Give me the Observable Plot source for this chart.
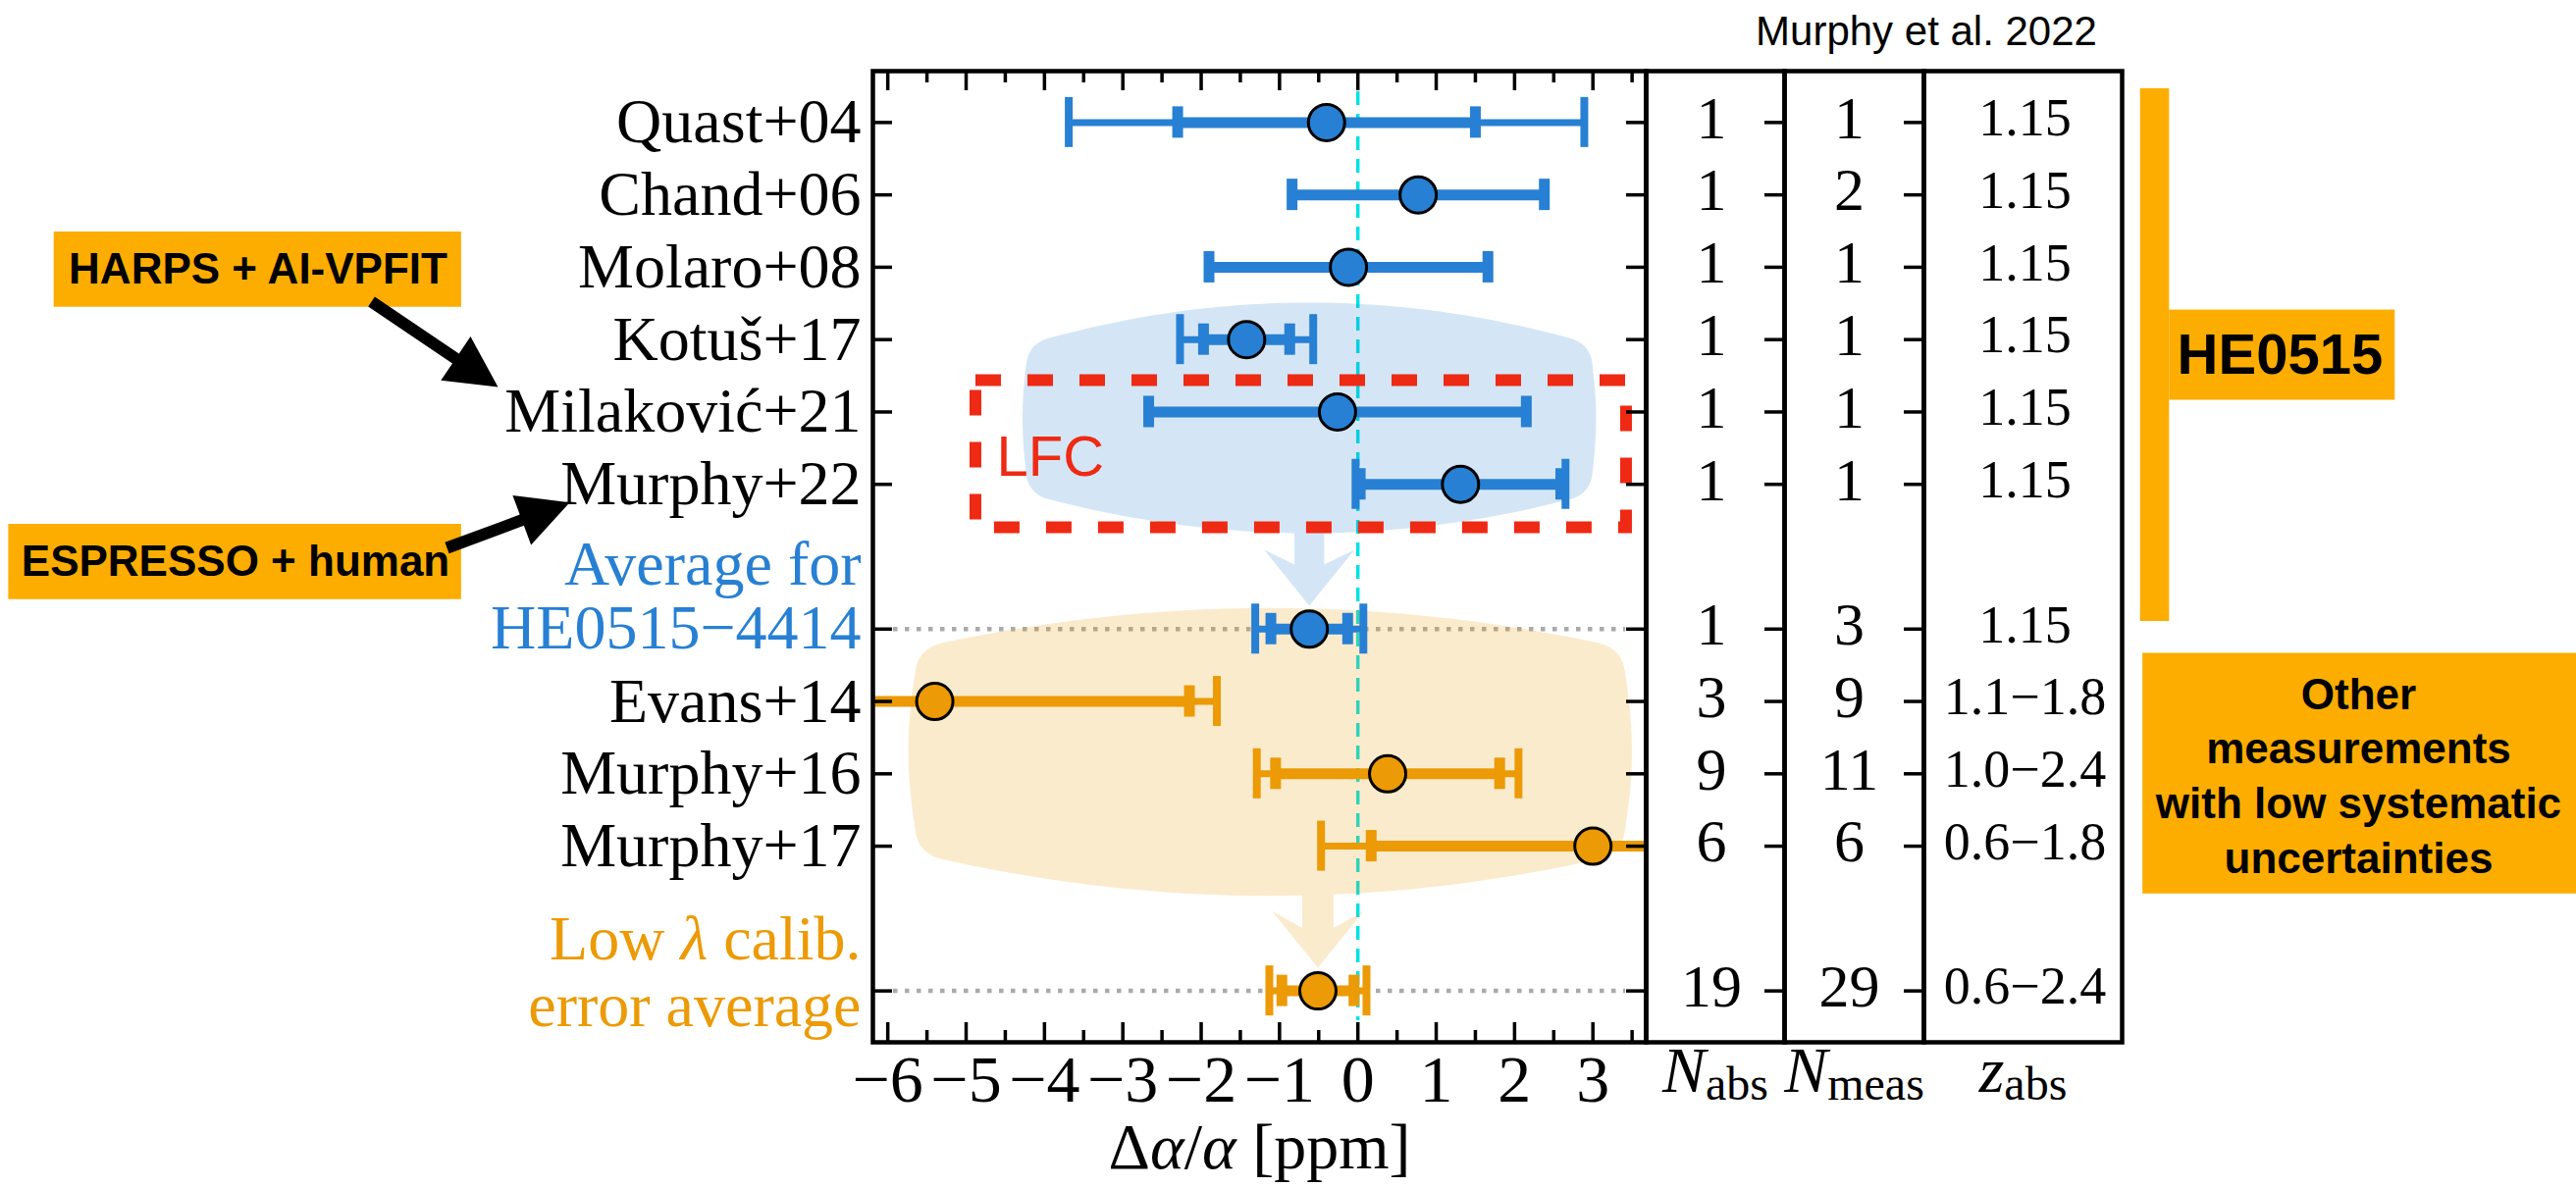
<!DOCTYPE html>
<html><head><meta charset="utf-8">
<script src="https://cdn.jsdelivr.net/npm/d3@7"></script>
<script src="https://cdn.jsdelivr.net/npm/@observablehq/plot@0.6"></script>
<style>
html,body{margin:0;padding:0;background:#fff;}
#chart{position:relative;width:2625px;height:1210px;overflow:hidden;background:#fff;}
#chart svg{position:absolute;top:0;}
</style></head><body><div id="chart"></div>
<script>
// ---------------- data ----------------
const rowOrder = ["Quast+04","Chand+06","Molaro+08","Kotuš+17","Milaković+21","Murphy+22","",
  "Average for\nHE0515−4414","Evans+14","Murphy+16","Murphy+17","","Low λ calib.\nerror average"];
const labels = ["Quast+04","Chand+06","Molaro+08","Kotuš+17","Milaković+21","Murphy+22",
  "Average for\nHE0515−4414","Evans+14","Murphy+16","Murphy+17","Low λ calib.\nerror average"];
const groups = ["HE0515","HE0515","HE0515","HE0515","HE0515","HE0515","HE0515","other","other","other","other"];
const kinds  = ["meas","meas","meas","meas","meas","meas","avg","meas","meas","meas","avg"];
const dAlpha  = [-0.40, 0.77, -0.12, -1.42, -0.26, 1.31, -0.62, -5.40, 0.38, 3.00, -0.51];
const statErr = [1.90, null, null, 0.55, null, 1.28, 0.49, 3.25, 1.43, 2.83, 0.46];
const totErr  = [3.29, 1.61, 1.78, 0.85, 2.41, 1.34, 0.69, 3.60, 1.67, 3.47, 0.62];
const nAbs  = [1,1,1,1,1,1,1,3,9,6,19];
const nMeas = [1,2,1,1,1,1,3,9,11,6,29];
const zAbs  = ["1.15","1.15","1.15","1.15","1.15","1.15","1.15","1.1−1.8","1.0−2.4","0.6−1.8","0.6−2.4"];
const xTicks = [-6,-5,-4,-3,-2,-1,0,1,2,3];
const xMinorTicks = [-5.5,-4.5,-3.5,-2.5,-1.5,-0.5,0.5,1.5,2.5,3.5];
const columnTitles = ["N_abs","N_meas","z_abs"];
const xLabel = "Δα/α [ppm]";
const credit = "Murphy et al. 2022";
const noteHarps = "HARPS + AI-VPFIT";
const noteEspresso = "ESPRESSO + human";
const noteLFC = "LFC";
const noteHE = "HE0515";
const noteOther = "Other\nmeasurements\nwith low systematic\nuncertainties";

// ---------------- layout / style ----------------
const W = 2625, H = 1210;
const FL = 889, FR = 1677, FT = 72, FB = 1062;
const xDomain = [-6.19, 3.68], yDomain = [-0.71, 12.71];
const kx = (FR - FL) / (xDomain[1] - xDomain[0]);
const ky = (FB - FT) / (yDomain[1] - yDomain[0]);
const SERIF = "Liberation Serif, Times New Roman, serif";
const SANS = "Liberation Sans, Arial, Helvetica, sans-serif";
const COLOR = {HE0515: "#2780d3", other: "#ec9a05"};
const AMBER = "#fcad00", RED = "#ee2a14", CYAN = "#00e2e6";

const rows = labels.map((label, i) => ({
  label, slot: rowOrder.indexOf(label), group: groups[i], kind: kinds[i],
  v: dAlpha[i], stat: statErr[i], tot: totErr[i], nAbs: nAbs[i], nMeas: nMeas[i], z: zAbs[i]
}));
const avgHE = rows.find(r => r.kind === "avg" && r.group === "HE0515");
const avgLow = rows.find(r => r.kind === "avg" && r.group === "other");

function blobOutline(p) {
  const {cx, hw, bulge, yT, yA, yB, yBC, rx, ry, stem} = p;
  const sx = stem.x;
  const xl = cx - hw, xr = cx + hw;
  const top = x => yA + (yT - yA) * ((x - cx) / hw) ** 2;
  const bot = x => yBC - (yBC - yB) * ((x - cx) / hw) ** 2;
  const side = (y, s) => cx + s * (hw + bulge * Math.sin(Math.PI * (y - yT) / (yB - yT)));
  const pts = [];
  const push = (x, y) => pts.push({x, y});
  const seg = (a, b, n, f) => { for (let i = 0; i <= n; i++) f(a + (b - a) * i / n); };
  const quad = (p0, c, p1, n = 10) => { for (let i = 1; i < n; i++) { const t = i / n, u = 1 - t;
    push(u*u*p0[0] + 2*u*t*c[0] + t*t*p1[0], u*u*p0[1] + 2*u*t*c[1] + t*t*p1[1]); } };
  seg(xl + rx, xr - rx, 40, x => push(x, top(x)));
  quad([xr - rx, top(xr - rx)], [xr, yT], [side(yT + ry, 1), yT + ry]);
  seg(yT + ry, yB - ry, 30, y => push(side(y, 1), y));
  quad([side(yB - ry, 1), yB - ry], [xr, yB], [xr - rx, bot(xr - rx)]);
  seg(xr - rx, sx + stem.hw, 20, x => push(x, bot(x)));
  push(sx + stem.hw, stem.yEnd); push(sx + stem.wing, stem.wingY); push(sx, stem.tip);
  push(sx - stem.wing, stem.wingY); push(sx - stem.hw, stem.yEnd);
  seg(sx - stem.hw, xl + rx, 20, x => push(x, bot(x)));
  quad([xl + rx, bot(xl + rx)], [xl, yB], [side(yB - ry, -1), yB - ry]);
  seg(yB - ry, yT + ry, 30, y => push(side(y, -1), y));
  quad([side(yT + ry, -1), yT + ry], [xl, yT], [xl + rx, top(xl + rx)]);
  return pts;
}
function arrowPolygon(t, h) {
  const dx = (h[0] - t[0]) * kx, dy = (h[1] - t[1]) * ky;
  const len = Math.hypot(dx, dy), ux = dx / len, uy = dy / len, nx = -uy, ny = ux;
  const L = 52, hwid = 27, sw = 6;
  const P = (a, c) => ({x: t[0] + (ux * a + nx * c) / kx, y: t[1] + (uy * a + ny * c) / ky});
  return [P(0, sw), P(len - L, sw), P(len - L, hwid), P(len, 0), P(len - L, -hwid), P(len - L, -sw), P(0, -sw)];
}
function richText(svg, plain, html) {
  svg.querySelectorAll("text, tspan").forEach(el => {
    if (el.children.length === 0 && el.textContent === plain) el.innerHTML = html;
  });
}

const blueBlob = blobOutline({cx: avgHE.v, hw: 3.58, bulge: 0.08, yT: 3.058, yA: 2.489, yB: 5.132, yBC: 5.675,
  rx: 0.25, ry: 0.27, stem: {x: avgHE.v, hw: 0.19, yEnd: 6.109, wing: 0.576, wingY: 5.905, tip: 6.678}});
const orangeBlob = blobOutline({cx: -1.12, hw: 4.48, bulge: 0.138, yT: 7.261, yA: 6.709, yB: 10.107, yBC: 10.686,
  rx: 0.3, ry: 0.3, stem: {x: avgLow.v, hw: 0.2, yEnd: 11.13, wing: 0.585, wingY: 10.897, tip: 11.68}});

const capOut = 25.5 / ky, capIn = 16 / ky;
const tickLen = 20, minorLen = 12;
const fmtTick = d => d < 0 ? "\u2212" + (-d) : String(d);

const marks = [
  Plot.ruleX([0], {y1: yDomain[0] + 21 / ky, y2: yDomain[1] - 22 / ky, stroke: CYAN, strokeWidth: 3.5, strokeDasharray: "14,9"}),
  Plot.ruleY(rows.filter(r => r.kind === "avg"), {y: "slot", x1: xDomain[0] + 21 / kx, x2: xDomain[1] - 21 / kx,
    stroke: "#aaaaaa", strokeWidth: 4.5, strokeDasharray: "4.5,7.5"}),
  Plot.line(blueBlob, {x: "x", y: "y", fill: COLOR.HE0515, fillOpacity: 0.2, stroke: "none"}),
  Plot.line(orangeBlob, {x: "x", y: "y", fill: COLOR.other, fillOpacity: 0.2, stroke: "none"}),
  Plot.rect([{x1: -4.875, x2: 3.429, y1: 3.567, y2: 5.60}], {x1: "x1", x2: "x2", y1: "y1", y2: "y2",
    fill: "none", stroke: RED, strokeWidth: 12, strokeDasharray: "26,27"}),
  Plot.text([noteLFC], {x: -4.612, y: 4.636, textAnchor: "start", fontSize: 58, fontFamily: SANS, fill: RED})
];

for (const g of ["HE0515", "other"]) {
  const c = COLOR[g];
  const R = rows.filter(r => r.group === g);
  const withStat = R.filter(r => r.stat != null);
  const outerCaps = withStat.flatMap(d => [d.v - d.tot, d.v + d.tot].map(x => ({x, slot: d.slot})));
  const innerCaps = R.flatMap(d => { const e = d.stat ?? d.tot; return [d.v - e, d.v + e].map(x => ({x, slot: d.slot})); });
  marks.push(
    Plot.ruleY(withStat, {y: "slot", x1: d => d.v - d.tot, x2: d => d.v + d.tot, stroke: c, strokeWidth: 7, clip: true}),
    Plot.ruleX(outerCaps, {x: "x", y1: d => d.slot - capOut, y2: d => d.slot + capOut, stroke: c, strokeWidth: 8, clip: true}),
    Plot.ruleY(R, {y: "slot", x1: d => d.v - (d.stat ?? d.tot), x2: d => d.v + (d.stat ?? d.tot), stroke: c, strokeWidth: 11, clip: true}),
    Plot.ruleX(innerCaps, {x: "x", y1: d => d.slot - capIn, y2: d => d.slot + capIn, stroke: c, strokeWidth: 11, clip: true}),
    Plot.dot(R, {x: "v", y: "slot", r: 18.5, fill: c, stroke: "black", strokeWidth: 3})
  );
}

marks.push(
  Plot.frame({stroke: "black", strokeWidth: 4.5}),
  Plot.ruleX(xTicks, {x: d => d, y1: yDomain[1], y2: yDomain[1] - tickLen / ky, stroke: "black", strokeWidth: 3.5}),
  Plot.ruleX(xMinorTicks, {x: d => d, y1: yDomain[1], y2: yDomain[1] - minorLen / ky, stroke: "black", strokeWidth: 3.5}),
  Plot.ruleX(xTicks, {x: d => d, y1: yDomain[0], y2: yDomain[0] + tickLen / ky, stroke: "black", strokeWidth: 3.5}),
  Plot.ruleX(xMinorTicks, {x: d => d, y1: yDomain[0], y2: yDomain[0] + minorLen / ky, stroke: "black", strokeWidth: 3.5}),
  Plot.ruleY(rows, {y: "slot", x1: xDomain[0], x2: xDomain[0] + tickLen / kx, stroke: "black", strokeWidth: 3.5}),
  Plot.ruleY(rows, {y: "slot", x1: xDomain[1] - tickLen / kx, x2: xDomain[1], stroke: "black", strokeWidth: 3.5}),
  Plot.axisX(xTicks, {anchor: "bottom", tickSize: 0, tickPadding: 12, tickFormat: fmtTick, fontSize: 68, fontFamily: SERIF, label: null}),
  Plot.text([xLabel], {frameAnchor: "bottom", lineAnchor: "bottom", dy: 128, fontSize: 66, fontFamily: SERIF}),
  Plot.text(rows.filter(r => r.kind === "meas"), {y: "slot", text: "label", frameAnchor: "left", textAnchor: "end", dx: -12,
    fontSize: 64, fontFamily: SERIF, fill: "black"}),
  Plot.text([avgHE], {y: "slot", text: "label", frameAnchor: "left", textAnchor: "end", dx: -12, lineAnchor: "bottom", dy: 20,
    lineHeight: 1.02, fontSize: 64, fontFamily: SERIF, fill: COLOR.HE0515}),
  Plot.text([avgLow], {y: "slot", text: "label", frameAnchor: "left", textAnchor: "end", dx: -12, lineAnchor: "bottom", dy: 36,
    lineHeight: 1.06, fontSize: 64, fontFamily: SERIF, fill: COLOR.other}),
  Plot.text([credit], {x: 7.256, frameAnchor: "top", lineAnchor: "bottom", dy: -27, fontSize: 42, fontFamily: SANS}),
  // left annotations
  Plot.rect([{x1: -16.64, x2: -11.44, y1: 1.513, y2: 2.553}, {x1: -17.22, x2: -11.44, y1: 5.553, y2: 6.593}],
    {x1: "x1", x2: "x2", y1: "y1", y2: "y2", fill: AMBER}),
  Plot.text([noteHarps], {x: -14.037, y: 2.033, fontSize: 44, fontWeight: "bold", fontFamily: SANS}),
  Plot.text([noteEspresso], {x: -14.325, y: 6.073, fontSize: 44, fontWeight: "bold", fontFamily: SANS}),
  Plot.line(arrowPolygon([-12.59, 2.476], [-10.975, 3.655]), {x: "x", y: "y", fill: "black", stroke: "none"}),
  Plot.line(arrowPolygon([-11.626, 5.878], [-10.06, 5.25]), {x: "x", y: "y", fill: "black", stroke: "none"}),
  // right annotations
  Plot.rect([{x1: 9.99, x2: 10.36, y1: -0.467, y2: 6.895}, {x1: 10.36, x2: 13.24, y1: 2.592, y2: 3.838},
    {x1: 10.02, x2: 15.7, y1: 7.335, y2: 10.66}], {x1: "x1", x2: "x2", y1: "y1", y2: "y2", fill: AMBER}),
  Plot.text([noteHE], {x: 11.77, y: 3.22, fontSize: 58, fontWeight: "bold", fontFamily: SANS}),
  Plot.text([noteOther], {x: 12.773, y: 8.996, fontSize: 44, lineHeight: 1.27, fontWeight: "bold", fontFamily: SANS})
);

const main = Plot.plot({
  width: W, height: H, marginLeft: FL, marginRight: W - FR, marginTop: FT, marginBottom: H - FB,
  x: {domain: xDomain}, y: {domain: yDomain, reverse: true, axis: null},
  style: {background: "transparent", overflow: "visible", fontFamily: SERIF},
  marks
});
main.style.left = "0px";
richText(main, xLabel, 'Δ<tspan font-style="italic">α</tspan>/<tspan font-style="italic">α</tspan> [ppm]');
richText(main, "Low λ calib.", 'Low <tspan font-style="italic">λ</tspan> calib.');
const chart = document.getElementById("chart");
chart.appendChild(main);

// ---------------- table columns ----------------
const columns = [
  {x0: 1677, x1: 1818, key: "nAbs", fontSize: 62, dx: -4, ticks: true, title: columnTitles[0]},
  {x0: 1818, x1: 1960, key: "nMeas", fontSize: 62, dx: -5, ticks: true, title: columnTitles[1]},
  {x0: 1960, x1: 2162, key: "z", fontSize: 54, dx: 2, ticks: false, title: columnTitles[2]}
];
for (const col of columns) {
  const pad = 10, w = col.x1 - col.x0;
  const cm = [
    Plot.frame({stroke: "black", strokeWidth: 4.5}),
    col.ticks ? Plot.ruleY(rows, {y: "slot", x1: 1 - tickLen / w, x2: 1, stroke: "black", strokeWidth: 3.5}) : null,
    Plot.text(rows, {y: "slot", text: col.key, frameAnchor: "middle", dx: col.dx, dy: -4, fontSize: col.fontSize, fontFamily: SERIF}),
    Plot.text([col.title], {frameAnchor: "bottom", lineAnchor: "bottom", dy: 50, fontSize: 66, fontFamily: SERIF})
  ].filter(Boolean);
  const svg = Plot.plot({
    width: w + 2 * pad, height: H, marginLeft: pad, marginRight: pad, marginTop: FT, marginBottom: H - FB,
    x: {domain: [0, 1], axis: null}, y: {domain: yDomain, reverse: true, axis: null},
    style: {background: "transparent", overflow: "visible", fontFamily: SERIF},
    marks: cm
  });
  svg.style.left = (col.x0 - pad) + "px";
  const [sym, sub] = col.title.split("_");
  richText(svg, col.title, `<tspan font-style="italic">${sym}</tspan><tspan font-size="48" dy="8">${sub}</tspan>`);
  chart.appendChild(svg);
}
</script></body></html>
